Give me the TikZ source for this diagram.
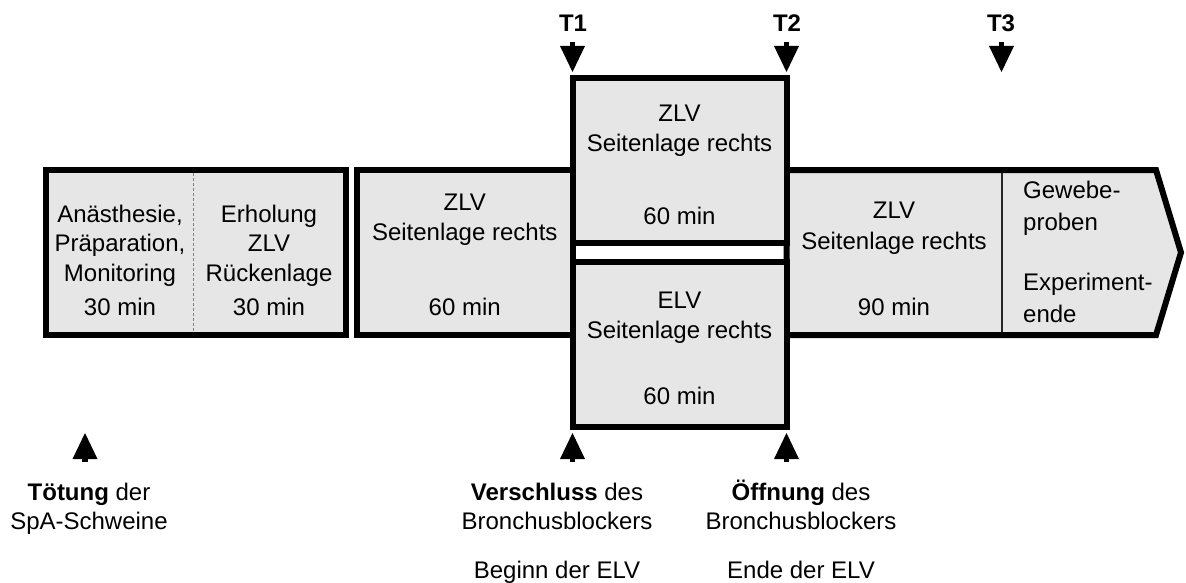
\documentclass[tikz,border=0pt]{standalone}
\usepackage{fontspec}
\setmainfont{Liberation Sans}
\usetikzlibrary{arrows.meta}
\definecolor{boxgray}{HTML}{E6E6E6}
\definecolor{dashgray}{HTML}{808080}
\begin{document}
\begin{tikzpicture}[x=1pt,y=-1pt,
  box/.style={draw=black, line width=6pt, fill=boxgray, line join=miter},
  txt/.style={anchor=base, inner sep=0pt, font=\fontsize{24}{30}\selectfont},
  ltxt/.style={txt, anchor=base west},
  btxt/.style={txt, font=\fontsize{24}{30}\selectfont\bfseries},
  downmark/.pic={\fill (-12.5,-26) -- (12.5,-26) -- (0,0) -- cycle;
                 \fill (-2.8,-30) rectangle (2.8,-24);},
  upmark/.pic={\fill (-12.5,26) -- (12.5,26) -- (0,0) -- cycle;
               \fill (-2.8,29) rectangle (2.8,24);}
]
\useasboundingbox (0,0) rectangle (1186,583);

% boxes
\draw[box] (45.5,170) rectangle (346,335);
\draw[dashgray, line width=1pt, dash pattern=on 3pt off 2pt] (193,173) -- (193,332);
\draw[box] (357,170) rectangle (572.5,335);
\draw[box] (786.5,170) -- (1156,170) -- (1181,252.5) -- (1156,335) -- (786.5,335) -- cycle;
\draw[line width=1.5pt, black!85] (1002,173) -- (1002,332);
\draw[box] (572.5,78) rectangle (786.5,243);
\draw[box] (572.5,262) rectangle (786.5,426.5);

% markers
\coordinate (t1) at (572.5,72);
\coordinate (t2) at (786.5,72);
\coordinate (t3) at (1001.5,72);
\coordinate (b0) at (85,433);
\coordinate (b1) at (572.5,433);
\coordinate (b2) at (786.5,433);
\pic at (t1) {downmark};
\pic at (t2) {downmark};
\pic at (t3) {downmark};
\pic at (b0) {upmark};
\pic at (b1) {upmark};
\pic at (b2) {upmark};

% T labels
\node[btxt] (lt1) at (573,32) {T1};
\node[btxt] (lt2) at (787,32) {T2};
\node[btxt] (lt3) at (1001,32) {T3};

% left box
\node[txt] (a1) at (120,222) {Anästhesie,};
\node[txt] (a2) at (120,251) {Präparation,};
\node[txt] (a3) at (120,281) {Monitoring};
\node[txt] (a4) at (120,315) {30 min};
\node[txt] (e1) at (269,222) {Erholung};
\node[txt] (e2) at (269,251) {ZLV};
\node[txt] (e3) at (269,281) {Rückenlage};
\node[txt] (e4) at (269,315) {30 min};

% second box
\node[txt] (s1) at (464.75,210) {ZLV};
\node[txt] (s2) at (464.75,240) {Seitenlage rechts};
\node[txt] (s3) at (464.75,315) {60 min};

% middle boxes
\node[txt] (m1) at (679.5,122) {ZLV};
\node[txt] (m2) at (679.5,152) {Seitenlage rechts};
\node[txt] (m3) at (679.5,224) {60 min};
\node[txt] (n1) at (679.5,308) {ELV};
\node[txt] (n2) at (679.5,338) {Seitenlage rechts};
\node[txt] (n3) at (679.5,404) {60 min};

% right box
\node[txt] (r1) at (894,218) {ZLV};
\node[txt] (r2) at (894,249) {Seitenlage rechts};
\node[txt] (r3) at (894,315) {90 min};
\node[ltxt] (g1) at (1023,198) {Gewebe-};
\node[ltxt] (g2) at (1023,230) {proben};
\node[ltxt] (g3) at (1023,290) {Experiment-};
\node[ltxt] (g4) at (1023,322) {ende};

% bottom labels
\node[txt] (k1) at (89,500) {\textbf{Tötung} der};
\node[txt] (k2) at (89,529) {SpA-Schweine};
\node[txt] (v1) at (557,500) {\textbf{Verschluss} des};
\node[txt] (v2) at (557,529) {Bronchusblockers};
\node[txt] (v3) at (557,578) {Beginn der ELV};
\node[txt] (o1) at (801,500) {\textbf{Öffnung} des};
\node[txt] (o2) at (801,529) {Bronchusblockers};
\node[txt] (o3) at (801,578) {Ende der ELV};
\end{tikzpicture}
\end{document}
